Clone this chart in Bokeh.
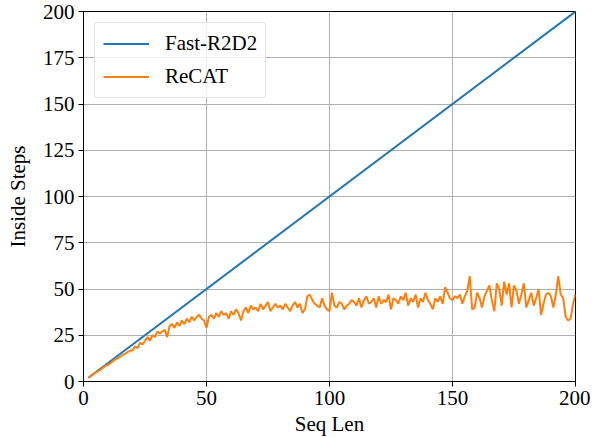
from bokeh.plotting import figure
from bokeh.models import Range1d, FixedTicker, Legend, LegendItem
from bokeh.embed import file_html
from bokeh.resources import INLINE

# ---- data ----
fast_x = [2, 200]
fast_y = [2, 200]

recat_x = list(range(2, 201))
recat_y = [
    2, 3, 4, 5, 5.5, 6.5, 7.5, 8.5,                       # 2-9
    9, 10, 11, 12, 12.5, 13.5, 14.5, 15, 16, 16.5,        # 10-19
    17, 19, 18, 21, 20, 22, 24, 22, 25, 24,               # 20-29
    27, 26, 27, 28, 24, 30, 31, 29, 32, 30,               # 30-39
    33, 31, 34, 32, 35, 33, 35, 36, 34, 33,               # 40-49
    29, 35, 36, 34, 37, 35, 38, 36, 37, 34,               # 50-59
    38, 36, 39, 37, 33, 38, 40, 37, 41, 39,               # 60-69
    40, 38, 42, 39, 41, 43, 38, 40, 42, 40,               # 70-79
    41, 39, 42, 40, 38, 41, 43, 40, 42, 37,               # 80-89
    39, 46, 47, 44, 42, 41, 40, 45, 41, 39,               # 90-99
    38, 48, 41, 40, 43, 42, 39, 41, 42, 44,               # 100-109
    43, 41, 45, 40, 44, 46, 42, 43, 45, 40,               # 110-119
    46, 42, 44, 43, 47, 39, 45, 44, 42, 46,               # 120-129
    44, 48, 41, 45, 43, 47, 40, 45, 43, 48,               # 130-139
    44, 42, 39, 45, 43, 46, 42, 51, 48, 45,               # 140-149
    44, 46, 45, 47, 42, 46, 49, 57, 39, 40,               # 150-159
    48, 45, 40, 46, 49, 52, 44, 38, 53, 50,               # 160-169
    41, 54, 47, 53, 40, 52, 49, 42, 47, 53,               # 170-179
    40, 44, 48, 41, 45, 50, 36, 42, 47, 48,               # 180-189
    46, 40, 47, 57, 47, 45, 35, 33, 34, 42,               # 190-199
    47,                                                   # 200
]

x_ticks = [0, 50, 100, 150, 200]
y_ticks = [0, 25, 50, 75, 100, 125, 150, 175, 200]

FONT = "Liberation Serif"
FS = "21px"

p = figure(width=590, height=438, output_backend="svg", toolbar_location=None,
           x_range=Range1d(0, 200), y_range=Range1d(0, 200),
           min_border_left=83, min_border_right=15, min_border_top=11, min_border_bottom=56)

p.outline_line_color = "black"
p.outline_line_width = 1
p.background_fill_color = "white"

for ax in (p.xaxis[0], p.yaxis[0]):
    ax.axis_line_color = "black"
    ax.major_tick_line_color = "black"
    ax.major_tick_out = 5
    ax.major_tick_in = 0
    ax.minor_tick_line_color = None
    ax.major_label_text_font = FONT
    ax.major_label_text_font_size = FS
    ax.major_label_text_color = "black"
    ax.major_label_standoff = 4
    ax.axis_label_text_font = FONT
    ax.axis_label_text_font_size = FS
    ax.axis_label_text_font_style = "normal"
    ax.axis_label_text_color = "black"

p.xaxis[0].ticker = FixedTicker(ticks=x_ticks)
p.yaxis[0].ticker = FixedTicker(ticks=y_ticks)
p.xaxis[0].axis_label = "Seq Len"
p.yaxis[0].axis_label = "Inside Steps"
p.xaxis[0].axis_label_standoff = 4
p.yaxis[0].axis_label_standoff = 10

p.xgrid.grid_line_color = "#b0b0b0"
p.ygrid.grid_line_color = "#b0b0b0"
p.xgrid.grid_line_width = 1
p.ygrid.grid_line_width = 1

r1 = p.line(fast_x, fast_y, line_color="#1f77b4", line_width=2)
r2 = p.line(recat_x, recat_y, line_color="#ff7f0e", line_width=2)

legend = Legend(items=[LegendItem(label="Fast-R2D2", renderers=[r1]),
                       LegendItem(label="ReCAT", renderers=[r2])],
                location="top_left")
legend.label_text_font = FONT
legend.label_text_font_size = FS
legend.label_text_color = "black"
legend.glyph_width = 46
legend.glyph_height = 21
legend.label_standoff = 16
legend.spacing = 8
legend.padding = 8
legend.margin = 11
legend.border_line_color = "#cccccc"
legend.border_line_width = 1
legend.border_radius = 4
legend.background_fill_alpha = 0.8
p.add_layout(legend)

open("out.html", "w").write(file_html(p, INLINE))
